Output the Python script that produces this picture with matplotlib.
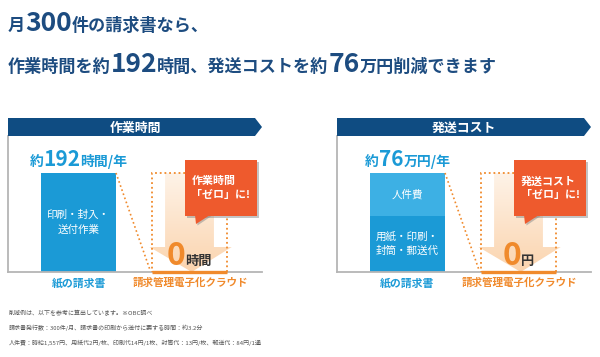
import numpy as np
import matplotlib.pyplot as plt
from matplotlib.patches import Polygon, Rectangle
from matplotlib.colors import LinearSegmentedColormap

FONT = ['Noto Sans CJK JP', 'DejaVu Sans']
plt.rcParams['font.family'] = FONT

# データ
panel_titles = ['作業時間', '発送コスト']
categories = ['紙の請求書', '請求管理電子化クラウド']
time_hours = [192, 0]          # 時間/年
cost_labor = [33, 0]           # 人件費 (万円/年)
cost_material = [43, 0]        # 用紙・印刷・封筒・郵送代 (万円/年)
value_numbers = ['192', '76']
value_units = ['時間/年', '万円/年']
zero_units = ['時間', '円']
callouts = ['作業時間\n「ゼロ」に!', '発送コスト\n「ゼロ」に!']
time_segment = '印刷・封入・\n送付作業'
cost_segments = ['用紙・印刷・\n封筒・郵送代', '人件費']
title_line1 = [('月', 'k'), ('300', 'n'), ('件の請求書なら、', 'k')]
title_line2 = [('作業時間を約', 'k'), ('192', 'n'), ('時間、発送コストを約', 'k'),
               ('76', 'n'), ('万円削減できます', 'k')]
footnotes = ['削減例は、以下を参考に算出しています。※OBC調べ',
             '請求書発行数：300件/月、請求書の印刷から送付に要する時間：約3.2分',
             '人件費：時給1,557円、用紙代2円/枚、印刷代14円/1枚、封筒代：13円/枚、郵送代：84円/1通']

NAVY = '#0f4c82'
TITLE = '#1d4c80'
BLUE = '#1b9ad6'
LIGHTBLUE = '#3db0e4'
ORANGE = '#f08a2c'
RED = '#ee5a2d'
GRAY = '#b5b5b5'

W, H = 600, 357
fig = plt.figure(figsize=(6, 3.57), dpi=100)
renderer = fig.canvas.get_renderer()


def runs(ax, x, y, pieces, ha='left'):
    # pieces: (text, size, color, weight) を横に並べる
    arts = []
    cx = x
    for s, size, col, w in pieces:
        t = ax.text(cx, y, s, fontsize=size, color=col, fontweight=w,
                    va='baseline', ha='left', zorder=10)
        wd = t.get_window_extent(renderer=renderer).width
        arts.append(t)
        cx += wd
    if ha == 'center':
        shift = (cx - x) / 2
        for t in arts:
            t.set_x(t.get_position()[0] - shift)


offsets = [0, 329]
bw = 0.676
cmap = LinearSegmentedColormap.from_list('peach', ['#fbd4ae', '#fef3e8'])

for i in range(2):
    off = offsets[i]
    ax = fig.add_axes([(8 + off) / W, (H - 272) / H, 254 / W, 136 / H])
    ax.patch.set_alpha(0)
    if i == 0:
        before = time_hours[0]
        after = time_hours[1]
    else:
        before = cost_labor[0] + cost_material[0]
        after = cost_labor[1] + cost_material[1]
    top = before * 136 / 99

    # 矢印 (グラデーション)
    hl = 25 / 136 * top
    pts = [(1 - 0.22, before), (1 + 0.22, before), (1 + 0.22, hl), (1 + 0.38, hl),
           (1.02, 0), (1 - 0.36, hl), (1 - 0.22, hl)]
    poly = Polygon(pts, closed=True, facecolor='none', edgecolor='none')
    ax.add_patch(poly)
    im = ax.imshow(np.linspace(0, 1, 256).reshape(-1, 1), cmap=cmap, origin='lower',
                   extent=(0.5, 1.5, 0, before), aspect='auto', zorder=1)
    im.set_clip_path(poly)

    if i == 0:
        ax.bar(0, time_hours[0], bw, color=BLUE, zorder=2)
        ax.text(0, before / 2, time_segment, color='white', fontsize=7.6,
                ha='center', va='center', linespacing=1.5, zorder=3)
    else:
        ax.bar(0, cost_material[0], bw, color=BLUE, zorder=2)
        ax.bar(0, cost_labor[0], bw, bottom=cost_material[0], color=LIGHTBLUE, zorder=2)
        ax.text(0, cost_material[0] / 2, cost_segments[0], color='white', fontsize=7.6,
                ha='center', va='center', linespacing=1.5, zorder=3)
        ax.text(0, cost_material[0] + cost_labor[0] / 2, cost_segments[1], color='white',
                fontsize=7.6, ha='center', va='center', zorder=3)

    # 削減前の点線枠
    ax.bar(1, before, bw, fill=False, edgecolor=ORANGE, linestyle=(0, (1, 1.6)),
           linewidth=1.3, zorder=4)
    ax.plot([bw / 2, 1 - bw / 2 - 0.02], [before, 0.02 * top], color=ORANGE,
            linestyle=(0, (1, 1.6)), linewidth=1.2, zorder=4)
    ax.bar(1, after, bw, color=ORANGE, zorder=5)
    ax.hlines(0, 1 - bw / 2, 1 + bw / 2, color=ORANGE, linewidth=2.4, zorder=5,
              clip_on=False)

    ax.set_xlim(-0.635, 1.653)
    ax.set_ylim(0, top)
    ax.set_xticks([])
    ax.set_yticks([])
    for s in ['top', 'right']:
        ax.spines[s].set_visible(False)
    for s in ['left', 'bottom']:
        ax.spines[s].set_color(GRAY)
        ax.spines[s].set_linewidth(1.3)

# 上に重ねる座標系 (ピクセル)
ov = fig.add_axes([0, 0, 1, 1], zorder=20)
ov.set_xlim(0, W)
ov.set_ylim(H, 0)
ov.axis('off')
ov.patch.set_alpha(0)

runs(ov, 8, 31, [(s, 19 if k == 'n' else 12.3, TITLE, 'bold') for s, k in title_line1])
runs(ov, 8, 72, [(s, 19 if k == 'n' else 12.3, TITLE, 'bold') for s, k in title_line2])

for i in range(2):
    off = offsets[i]
    ov.add_patch(Polygon([(8 + off, 118), (255 + off, 118), (262 + off, 127),
                          (255 + off, 136), (8 + off, 136)], closed=True,
                         facecolor=NAVY, edgecolor='none'))
    ov.text(135 + off, 127.5, panel_titles[i], color='white', fontsize=9.3,
            fontweight='bold', ha='center', va='center')

    runs(ov, 78.5 + off, 166, [('約', 10, BLUE, 'bold'), (value_numbers[i], 15, BLUE, 'bold'),
                               (value_units[i], 10, BLUE, 'bold')], ha='center')

    ov.text(78.5 + off, 283, categories[0], color=BLUE, fontsize=7.8,
            fontweight='bold', ha='center', va='center')
    ov.text(190 + off, 283, categories[1], color=ORANGE, fontsize=7.6,
            fontweight='bold', ha='center', va='center')

    # 吹き出し
    sx, sy, bwid, bh = 185 + off, 160, 72, 56
    ov.add_patch(Rectangle((sx + 1.5, sy + 1.5), bwid, bh, facecolor='#8a8a8a',
                           alpha=0.5, edgecolor='none'))
    ov.add_patch(Polygon([(sx + 11.5, sy + bh), (sx + 26.5, sy + bh), (sx + 12.5, sy + bh + 9.5)],
                         facecolor='#8a8a8a', alpha=0.5, edgecolor='none'))
    ov.add_patch(Rectangle((sx, sy), bwid, bh, facecolor=RED, edgecolor='none'))
    ov.add_patch(Polygon([(sx + 10, sy + bh - 1), (sx + 25, sy + bh - 1), (sx + 11, sy + bh + 8)],
                         facecolor=RED, edgecolor='none'))
    ov.text(sx + 6.5, sy + bh / 2, callouts[i], color='white', fontsize=7.9,
            fontweight='bold', ha='left', va='center', multialignment='left',
            linespacing=1.4)

    runs(ov, 189.5 + off, 265, [('0', 23, ORANGE, 'bold'),
                                (zero_units[i], 9.5, '#333333', 'bold')], ha='center')

for j, line in enumerate(footnotes):
    ov.text(9, 313 + 15 * j, line, color='#555555', fontsize=4.3, ha='left', va='center')

fig.savefig('out.png', dpi=100)
